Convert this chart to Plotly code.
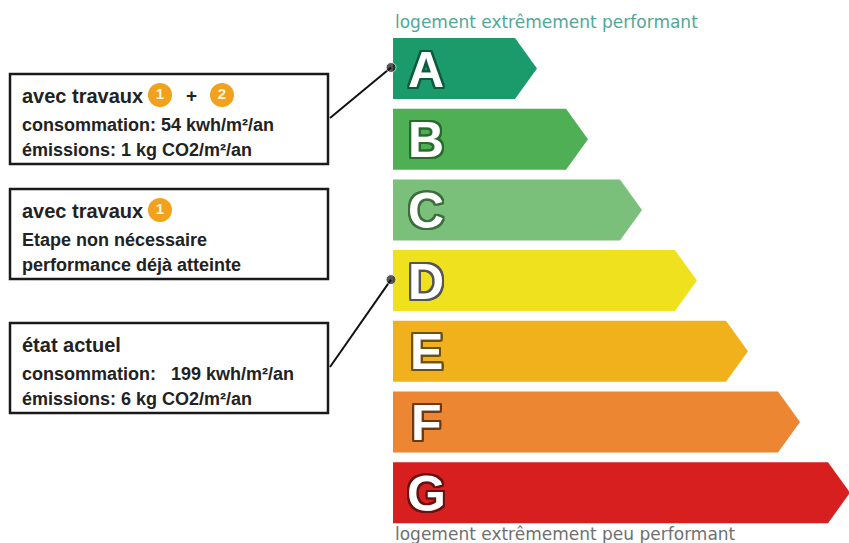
import plotly.graph_objects as go

# ---- data ----
classes = ["A", "B", "C", "D", "E", "F", "G"]
class_lengths = [144, 195, 249, 304, 355, 407, 457]
class_colors = ["#1b9b6b", "#4eaf55", "#7bc07a", "#f0e11e", "#f0b11d", "#ec8633", "#d71f20"]
outline_colors = ["#0f5a3e", "#2a6a2e", "#3e6e3e", "#555555", "#6b5010", "#6b3a15", "#6b1010"]

top_label = "logement extrêmement performant"
bottom_label = "logement extrêmement peu performant"

box_titles = ["avec travaux", "avec travaux", "état actuel"]
box_badges = [["1", "2"], ["1"], []]
box_line2 = ["consommation: 54 kwh/m²/an", "Etape non nécessaire", "consommation:   199 kwh/m²/an"]
box_line3 = ["émissions: 1 kg CO2/m²/an", "performance déjà atteinte", "émissions: 6 kg CO2/m²/an"]
box_target_class = ["A", None, "D"]

# ---- layout constants ----
W, H = 849, 543
bar_x0 = 393
bar_top0 = 38
bar_step = 70.7
bar_h = 61
tip_w = 22
box_x0, box_x1 = 10, 328
box_tops = [74, 189, 323]
box_h = 90

fig = go.Figure()

def outline_shadow(c):
    s = []
    for dx, dy in [(2, 0), (-2, 0), (0, 2), (0, -2), (2, 2), (-2, -2), (2, -2), (-2, 2), (1, 2), (2, 1), (-1, -2), (-2, -1), (1, -2), (-2, 1), (-1, 2), (2, -1)]:
        s.append(f"{dx}px {dy}px 0 {c}")
    return ", ".join(s)

bar_mid = {}
for i, (cl, ln, col, oc) in enumerate(zip(classes, class_lengths, class_colors, outline_colors)):
    top = bar_top0 + i * bar_step
    bot = top + bar_h
    mid = (top + bot) / 2
    bar_mid[cl] = mid
    x_end = bar_x0 + ln
    xs = [bar_x0, x_end - tip_w, x_end, x_end - tip_w, bar_x0, bar_x0]
    ys = [top, top, mid, bot, bot, top]
    fig.add_trace(go.Scatter(x=xs, y=ys, fill="toself", fillcolor=col, mode="lines",
                             line=dict(width=0, color=col), hoverinfo="skip", showlegend=False))
    fig.add_annotation(x=bar_x0 + 33, y=mid + 1, text=f"<b>{cl}</b>", showarrow=False,
                       xanchor="center", yanchor="middle",
                       font=dict(family="Liberation Sans", size=50, color="white",
                                 shadow=outline_shadow(oc)))

fig.add_annotation(x=bar_x0, y=22, text=top_label, showarrow=False, xanchor="left", yanchor="middle",
                   font=dict(family="DejaVu Sans", size=17, color="#4fa898"))
fig.add_annotation(x=bar_x0, y=534, text=bottom_label, showarrow=False, xanchor="left", yanchor="middle",
                   font=dict(family="DejaVu Sans", size=17, color="#707070"))

badge_x = [160, 222]
for b in range(3):
    top = box_tops[b]
    fig.add_shape(type="rect", x0=box_x0, x1=box_x1, y0=top, y1=top + box_h,
                  line=dict(color="#1a1a1a", width=2.5), fillcolor="white", layer="below")
    fig.add_annotation(x=20, y=top + 22, text=f"<b>{box_titles[b]}</b>", showarrow=False,
                       xanchor="left", yanchor="middle",
                       font=dict(family="Liberation Sans", size=20, color="#222222"))
    fig.add_annotation(x=20, y=top + 51, text=f"<b>{box_line2[b]}</b>", showarrow=False,
                       xanchor="left", yanchor="middle",
                       font=dict(family="Liberation Sans", size=18, color="#222222"))
    fig.add_annotation(x=20, y=top + 76, text=f"<b>{box_line3[b]}</b>", showarrow=False,
                       xanchor="left", yanchor="middle",
                       font=dict(family="Liberation Sans", size=18, color="#222222"))
    badges = box_badges[b]
    if badges:
        fig.add_trace(go.Scatter(x=badge_x[:len(badges)], y=[top + 21] * len(badges),
                                 mode="markers+text", text=[f"<b>{t}</b>" for t in badges],
                                 textposition="middle center",
                                 textfont=dict(family="Liberation Sans", size=15, color="#fff4d8"),
                                 marker=dict(size=24, color="#f0a21c", line=dict(width=0)),
                                 hoverinfo="skip", showlegend=False))
    if len(badges) == 2:
        fig.add_annotation(x=191, y=top + 21, text="<b>+</b>", showarrow=False,
                           font=dict(family="Liberation Sans", size=19, color="#222222"))
    tc = box_target_class[b]
    if tc:
        fig.add_trace(go.Scatter(x=[box_x1 + 2, bar_x0 - 2], y=[top + 44, bar_mid[tc] - 1],
                                 mode="lines+markers", line=dict(color="#111111", width=2),
                                 marker=dict(size=[0, 10], color="#111111"),
                                 hoverinfo="skip", showlegend=False))

fig.update_layout(width=W, height=H, margin=dict(l=0, r=0, t=0, b=0),
                  paper_bgcolor="white", plot_bgcolor="white",
                  xaxis=dict(range=[0, W], visible=False, fixedrange=True),
                  yaxis=dict(range=[H, 0], visible=False, fixedrange=True))

fig.write_html("out.html", config={"displayModeBar": False},
               post_script="document.body.style.margin='0';document.body.style.overflow='hidden';")
